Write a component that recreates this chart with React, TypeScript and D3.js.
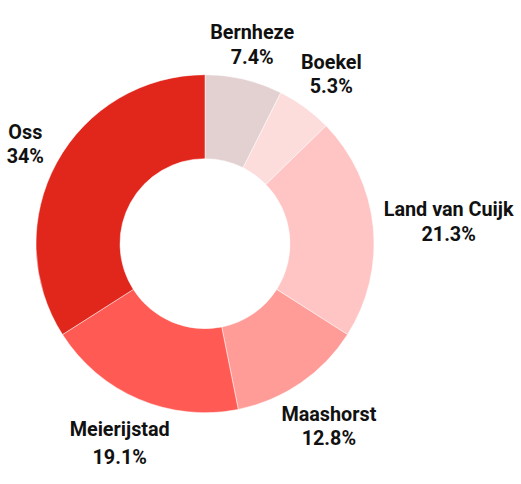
import React from "react";
import * as d3 from "d3";

const categories = ["Bernheze", "Boekel", "Land van Cuijk", "Maashorst", "Meierijstad", "Oss"];
const values = [7.4, 5.3, 21.3, 12.8, 19.1, 34];
const pctLabels = ["7.4%", "5.3%", "21.3%", "12.8%", "19.1%", "34%"];
const colors = ["#e3d0d0", "#fddcdc", "#ffc5c4", "#ff9c98", "#ff5a53", "#e1261c"];
const lineGaps = [24.5, 24.5, 25.5, 24.5, 28, 24];
const labelDx = [-4, 2, 0, -4.7, 4.8, -5.5];
const labelDy = [0.6, -4, -0.6, 13.5, 11.4, -1];

const W = 521, H = 484;
const cx = 205, cy = 243.7;
const outerR = 169, innerR = 85;
const fontSize = 19.8;

function measure(t: string): number {
  const cv = document.createElement("canvas");
  const ctx = cv.getContext("2d");
  if (!ctx) return t.length * fontSize * 0.55;
  ctx.font = `700 ${fontSize}px Roboto`;
  return ctx.measureText(t).width;
}

export default function App() {
  const pie = d3.pie<number>().sort(null).value((d) => d);
  const arcs = pie(values);
  const arcGen = d3.arc<d3.PieArcDatum<number>>().innerRadius(innerR).outerRadius(outerR);
  return (
    <svg width={W} height={H} style={{ position: "absolute", left: 0, top: 0 }}>
      <g transform={`translate(${cx},${cy})`}>
        {arcs.map((a, i) => (
          <path key={i} d={arcGen(a) || ""} fill={colors[i]} stroke="#fff" strokeWidth={0.5} />
        ))}
        {arcs.map((a, i) => {
          const mid = (a.startAngle + a.endAngle) / 2;
          const s = Math.sin(mid), c = Math.cos(mid);
          const ar = outerR + 11;
          const w = Math.max(measure(categories[i]), measure(pctLabels[i]));
          const h = 50;
          const x = ar * s + (w / 2) * s + labelDx[i];
          const y = -ar * c - (h / 2) * c + labelDy[i];
          const g = lineGaps[i];
          return (
            <g key={"l" + i} fontFamily="Roboto" fontWeight={700} fontSize={fontSize} fill="#111">
              <text x={x} y={y - g / 2} textAnchor="middle" dominantBaseline="central">{categories[i]}</text>
              <text x={x} y={y + g / 2} textAnchor="middle" dominantBaseline="central">{pctLabels[i]}</text>
            </g>
          );
        })}
      </g>
    </svg>
  );
}
